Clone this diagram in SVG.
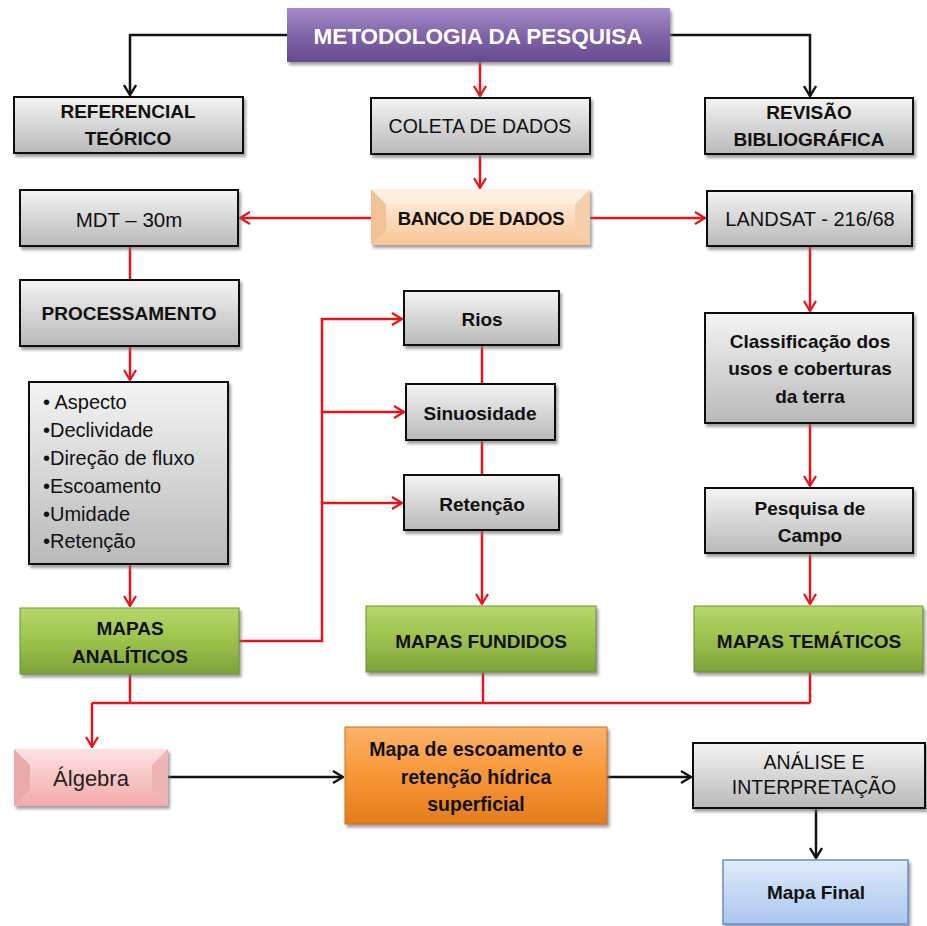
<svg xmlns="http://www.w3.org/2000/svg" width="927" height="926" viewBox="0 0 927 926">
<defs>
<linearGradient id="gGray" x1="0" y1="0" x2="0" y2="1"><stop offset="0" stop-color="#f4f4f4"/><stop offset="1" stop-color="#b9b9b9"/></linearGradient>
<linearGradient id="gGreen" x1="0" y1="0" x2="0" y2="1"><stop offset="0" stop-color="#b6d86c"/><stop offset="0.5" stop-color="#9cc24b"/><stop offset="1" stop-color="#7ea23a"/></linearGradient>
<linearGradient id="gPurple" x1="0" y1="0" x2="0" y2="1"><stop offset="0" stop-color="#a58ccb"/><stop offset="0.5" stop-color="#8064a8"/><stop offset="1" stop-color="#674b8f"/></linearGradient>
<linearGradient id="gPeach" x1="0" y1="0" x2="0" y2="1"><stop offset="0" stop-color="#fff3e8"/><stop offset="1" stop-color="#f9c595"/></linearGradient>
<linearGradient id="gPink" x1="0" y1="0" x2="0" y2="1"><stop offset="0" stop-color="#fde2e2"/><stop offset="1" stop-color="#f3aaaa"/></linearGradient>
<linearGradient id="gOrange" x1="0" y1="0" x2="0" y2="1"><stop offset="0" stop-color="#fcb36a"/><stop offset="0.5" stop-color="#f89636"/><stop offset="1" stop-color="#e37c1c"/></linearGradient>
<linearGradient id="gBlue" x1="0" y1="0" x2="0" y2="1"><stop offset="0" stop-color="#e0ebfb"/><stop offset="1" stop-color="#a9c6ef"/></linearGradient>
<filter id="sh" x="-10%" y="-10%" width="130%" height="140%"><feDropShadow dx="2" dy="3" stdDeviation="1.5" flood-color="#777" flood-opacity="0.7"/></filter>
<marker id="ar" viewBox="0 0 12 14" refX="11" refY="7" markerWidth="12" markerHeight="14" markerUnits="userSpaceOnUse" orient="auto"><path d="M1,1 L11,7 L1,13" fill="none" stroke="#e8141b" stroke-width="2.2"/></marker>
<marker id="ak" viewBox="0 0 12 14" refX="11" refY="7" markerWidth="12" markerHeight="14" markerUnits="userSpaceOnUse" orient="auto"><path d="M1,1 L11,7 L1,13" fill="none" stroke="#111" stroke-width="2.4"/></marker>
</defs>
<style>
text{font-family:"Liberation Sans",Arial,sans-serif;text-anchor:middle;dominant-baseline:central;fill:#111}
.b{font-weight:bold;font-size:19px}
.n{font-size:19.5px}
.gray{fill:url(#gGray);stroke:#111;stroke-width:2;filter:url(#sh)}
.green{fill:url(#gGreen);stroke:#6f9132;stroke-width:1;filter:url(#sh)}
.red{fill:none;stroke:#e8141b;stroke-width:2.5}
.blk{fill:none;stroke:#111;stroke-width:2.5}
.bl{text-anchor:start;font-size:20px}
</style>
<rect width="927" height="926" fill="#fff"/>

<g id="connectors">
<path class="blk" d="M287,35 H130 V95" marker-end="url(#ak)"/>
<path class="blk" d="M670,35 H810 V96" marker-end="url(#ak)"/>
<path class="red" d="M480,62 V96" marker-end="url(#ar)"/>
<path class="red" d="M480,154 V188" marker-end="url(#ar)"/>
<path class="red" d="M371,218 H240" marker-end="url(#ar)"/>
<path class="red" d="M590,218 H705" marker-end="url(#ar)"/>
<path class="red" d="M130,246 V280"/>
<path class="red" d="M130,346 V380" marker-end="url(#ar)"/>
<path class="red" d="M130,564 V606" marker-end="url(#ar)"/>
<path class="red" d="M239,641 H322 V319 H402" marker-end="url(#ar)"/>
<path class="red" d="M322,412 H404" marker-end="url(#ar)"/>
<path class="red" d="M322,503 H402" marker-end="url(#ar)"/>
<path class="red" d="M482,345 V384 M482,440 V475"/>
<path class="red" d="M482,530 V604" marker-end="url(#ar)"/>
<path class="red" d="M810,246 V311" marker-end="url(#ar)"/>
<path class="red" d="M810,423 V486" marker-end="url(#ar)"/>
<path class="red" d="M810,553 V604" marker-end="url(#ar)"/>
<path class="red" d="M130,674 V703 M483,672 V703 M810,672 V703 M92,703 H810"/>
<path class="red" d="M92,703 V747" marker-end="url(#ar)"/>
<path class="blk" d="M168,777 H343" marker-end="url(#ak)"/>
<path class="blk" d="M607,777 H691" marker-end="url(#ak)"/>
<path class="blk" d="M816,808 V858" marker-end="url(#ak)"/>
</g>

<g id="metodologia">
<rect x="287" y="8" width="383" height="54" fill="url(#gPurple)" filter="url(#sh)"/>
<text x="478" y="36" style="font-weight:bold;font-size:22.5px;fill:#fff">METODOLOGIA DA PESQUISA</text>
</g>
<g id="referencial">
<rect class="gray" x="14" y="97" width="229" height="56"/>
<text class="b" x="128" y="111">REFERENCIAL</text>
<text class="b" x="128" y="138">TEÓRICO</text>
</g>
<g id="coleta">
<rect class="gray" x="371" y="98" width="219" height="56"/>
<text class="n" x="480" y="126">COLETA DE DADOS</text>
</g>
<g id="revisao">
<rect class="gray" x="705" y="98" width="208" height="56"/>
<text class="b" x="809" y="112">REVISÃO</text>
<text class="b" x="809" y="139">BIBLIOGRÁFICA</text>
</g>
<g id="banco">
<rect x="371" y="189" width="219" height="56" fill="url(#gPeach)" filter="url(#sh)"/>
<polygon points="371,189 386,204 386,230 371,245" fill="#f1c197"/>
<polygon points="590,189 575,204 575,230 590,245" fill="#f6cfac"/>
<polygon points="371,189 590,189 575,204 386,204" fill="#fff0e2" opacity="0.7"/>
<text x="481" y="218" style="font-weight:bold;font-size:18.5px;letter-spacing:-0.3px">BANCO DE DADOS</text>
</g>
<g id="mdt">
<rect class="gray" x="20" y="190" width="218" height="56"/>
<text x="129" y="219" style="font-size:20.5px">MDT – 30m</text>
</g>
<g id="landsat">
<rect class="gray" x="707" y="191" width="205" height="55"/>
<text x="810" y="219" style="font-size:20px">LANDSAT - 216/68</text>
</g>
<g id="processamento">
<rect class="gray" x="20" y="280" width="219" height="66"/>
<text class="b" x="129" y="313">PROCESSAMENTO</text>
</g>
<g id="parametros">
<rect class="gray" x="29" y="382" width="199" height="182"/>
<text class="bl" x="43" y="402">• Aspecto</text>
<text class="bl" x="43" y="430">•Declividade</text>
<text class="bl" x="43" y="458">•Direção de fluxo</text>
<text class="bl" x="43" y="486">•Escoamento</text>
<text class="bl" x="43" y="514">•Umidade</text>
<text class="bl" x="43" y="541">•Retenção</text>
</g>
<g id="mapas-analiticos">
<rect class="green" x="20" y="608" width="219" height="66"/>
<text class="b" x="130" y="628">MAPAS</text>
<text class="b" x="130" y="656">ANALÍTICOS</text>
</g>
<g id="rios">
<rect class="gray" x="404" y="291" width="155" height="54"/>
<text class="b" x="482" y="319">Rios</text>
</g>
<g id="sinuosidade">
<rect class="gray" x="406" y="384" width="149" height="56"/>
<text class="b" x="480" y="413">Sinuosidade</text>
</g>
<g id="retencao">
<rect class="gray" x="404" y="475" width="155" height="55"/>
<text class="b" x="482" y="504">Retenção</text>
</g>
<g id="mapas-fundidos">
<rect class="green" x="366" y="606" width="230" height="66"/>
<text class="b" x="481" y="641">MAPAS FUNDIDOS</text>
</g>
<g id="classificacao">
<rect class="gray" x="705" y="313" width="208" height="110"/>
<text class="b" x="810" y="341">Classificação dos</text>
<text class="b" x="810" y="368">usos e coberturas</text>
<text class="b" x="810" y="396">da terra</text>
</g>
<g id="pesquisa-campo">
<rect class="gray" x="705" y="488" width="208" height="65"/>
<text class="b" x="810" y="508">Pesquisa de</text>
<text class="b" x="810" y="535">Campo</text>
</g>
<g id="mapas-tematicos">
<rect class="green" x="694" y="606" width="229" height="66"/>
<text class="b" x="809" y="641">MAPAS TEMÁTICOS</text>
</g>
<g id="algebra">
<rect x="14" y="749" width="154" height="57" fill="url(#gPink)" filter="url(#sh)"/>
<polygon points="14,749 30,765 30,790 14,806" fill="#e9aaaa"/>
<polygon points="168,749 152,765 152,790 168,806" fill="#efb5b5"/>
<text x="91" y="778" style="font-size:22px;fill:#222">Álgebra</text>
</g>
<g id="mapa-escoamento">
<rect x="345" y="727" width="262" height="97" fill="url(#gOrange)" stroke="#d07018" stroke-width="1" filter="url(#sh)"/>
<text class="b" x="476" y="749" style="font-size:19.5px">Mapa de escoamento e</text>
<text class="b" x="476" y="777" style="font-size:19.5px">retenção hídrica</text>
<text class="b" x="476" y="804" style="font-size:19.5px">superficial</text>
</g>
<g id="analise">
<rect class="gray" x="693" y="743" width="232" height="65"/>
<text class="n" x="814" y="762">ANÁLISE E</text>
<text class="n" x="814" y="787">INTERPRETAÇÃO</text>
</g>
<g id="mapa-final">
<rect x="723" y="860" width="185" height="64" fill="url(#gBlue)" stroke="#6b8fc4" stroke-width="1.5" filter="url(#sh)"/>
<text class="b" x="816" y="892">Mapa Final</text>
</g>
</svg>
